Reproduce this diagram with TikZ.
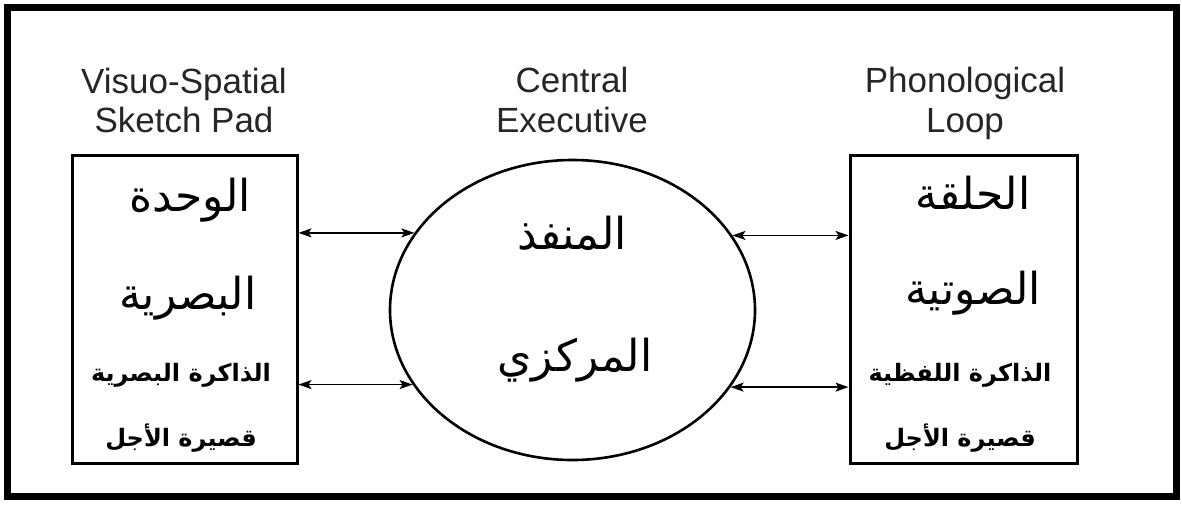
\documentclass[tikz,border=0pt]{standalone}
\usepackage{fontspec}
\setmainfont{Liberation Sans}
\newfontfamily\arabicfont[Script=Arabic]{DejaVu Sans}
\TeXXeTstate=1
\usetikzlibrary{shapes.geometric,arrows.meta}
\begin{document}
\begin{tikzpicture}[x=1pt,y=-1pt,
 lab/.style={font=\fontsize{35}{39}\selectfont, text=black!85, anchor=base, inner sep=0},
 big/.style={font=\arabicfont\fontsize{44}{48}\selectfont, inner sep=0},
 small/.style={font=\arabicfont\bfseries\fontsize{24}{28}\selectfont, inner sep=0},
 boxst/.style={draw, line width=3pt, minimum height=308pt, inner sep=0},
 link/.style={line width=1.6pt, {Stealth[length=13pt,width=9pt,inset=3pt]}-{Stealth[length=13pt,width=9pt,inset=3pt]}}
]
\useasboundingbox (0,0) rectangle (1182,504);
\draw[line width=7pt] (7,7) rectangle (1176,496);

\node[boxst, minimum width=225pt] (lbox) at (184.5,309) {};
\node[boxst, minimum width=227pt] (rbox) at (963.5,309) {};
\node[draw, ellipse, line width=2.6pt, minimum width=365pt, minimum height=300pt, inner sep=0] (ce) at (572.5,310) {};

\draw[link] (lbox.east |- ce.154.6) -- (ce.154.6);
\draw[link] (lbox.east |- ce.205.4) -- (ce.205.4);
\draw[link] (ce.25.4) -- (rbox.west |- ce.25.4);
\draw[link] (ce.334.6) -- (rbox.west |- ce.334.6);

\node[lab] (vs1) at (184,93) {Visuo-Spatial};
\node[lab] (vs2) at (184,132) {Sketch Pad};
\node[lab] (ce1) at (572,92) {Central};
\node[lab] (ce2) at (572,132) {Executive};
\node[lab] (pl1) at (965,92) {Phonological};
\node[lab] (pl2) at (965,132) {Loop};

\node[big] (l1) at (190,200) {\beginR الوحدة\endR};
\node[big] (l2) at (188,298) {\beginR البصرية\endR};
\node[small] (l3) at (181,375) {\beginR الذاكرة البصرية\endR};
\node[small] (l4) at (181,438) {\beginR قصيرة الأجل\endR};

\node[big] (c1) at (572,233) {\beginR المنفذ\endR};
\node[big] (c2) at (575,360) {\beginR المركزي\endR};

\node[big] (r1) at (973,193) {\beginR الحلقة\endR};
\node[big] (r2) at (973,293) {\beginR الصوتية\endR};
\node[small] (r3) at (960,375) {\beginR الذاكرة اللفظية\endR};
\node[small] (r4) at (960,438) {\beginR قصيرة الأجل\endR};
\end{tikzpicture}
\end{document}
